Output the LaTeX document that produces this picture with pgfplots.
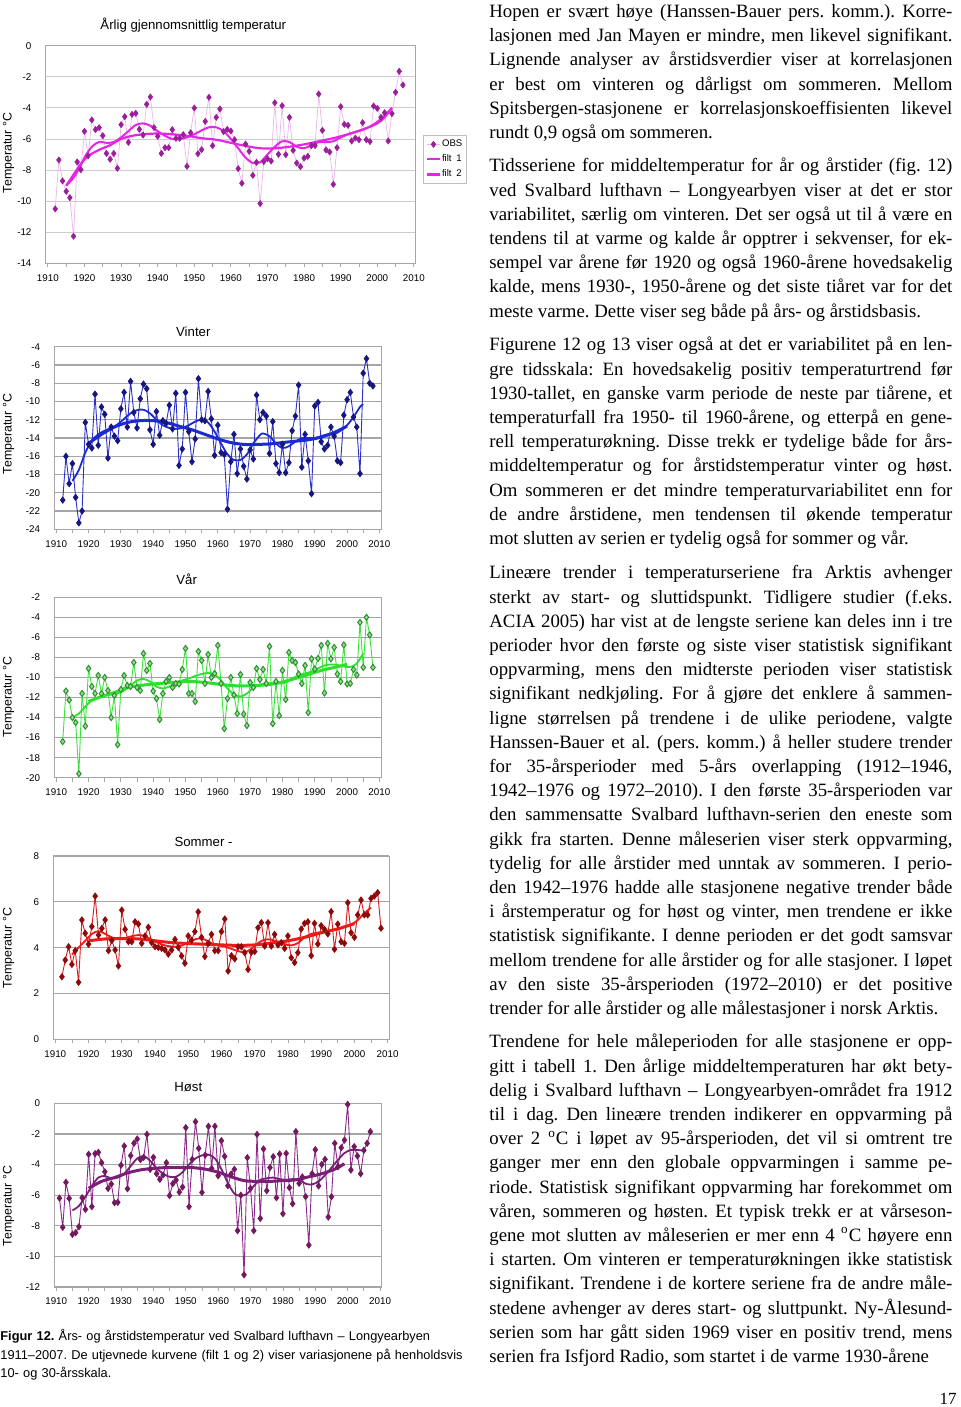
\documentclass[border=0pt]{standalone}
\usepackage{fontspec}
\setmainfont{Liberation Serif}
\setsansfont{Liberation Sans}
\usepackage{pgfplots}
\pgfplotsset{compat=1.18}

\definecolor{p1mk}{HTML}{9B1F9B}
\definecolor{p1ln}{HTML}{EBB5EB}
\definecolor{p1f}{HTML}{E626E6}
\definecolor{p2mk}{HTML}{16167E}
\definecolor{p2ln}{HTML}{2A30C8}
\definecolor{p2f}{HTML}{1C2AD2}
\definecolor{p3mk}{HTML}{2F8F2F}
\definecolor{p3fill}{HTML}{8FE08F}
\definecolor{p3ln}{HTML}{3CE23C}
\definecolor{p3f}{HTML}{2EE02E}
\definecolor{p4mk}{HTML}{8E0A0A}
\definecolor{p4ln}{HTML}{D81A1A}
\definecolor{p4f}{HTML}{EE1A1A}
\definecolor{p5mk}{HTML}{74185F}
\definecolor{p5ln}{HTML}{8A2A8A}
\definecolor{p5f}{HTML}{7A1E78}
\definecolor{gridc}{HTML}{A6A6A6}

\pgfplotsset{
  panel/.style={
    scale only axis, anchor=north west,
    xmin=1909.4, xmax=2010.5,
    xtick={1910,1920,...,2010},
    xticklabels={1910,1920,1930,1940,1950,1960,1970,1980,1990,2000,2010},
    minor x tick num=1,
    xtick pos=bottom, ytick pos=left,
    tick align=outside,
    major tick length=2pt, minor tick length=2pt,
    xtick style={draw=gray!70, line width=0.4pt},
    ytick style={draw=none},
    ymajorgrids, major grid style={draw=gridc, line width=0.6pt},
    axis line style={draw=gridc, line width=0.5pt},
    tick label style={font=\fontsize{4.9}{5}\selectfont\sffamily},
    xticklabel style={yshift=0pt},
    yticklabel style={xshift=-1.6pt},
    clip=false,
  },
  obs/.style={line width=0.45pt, mark=diamond*, mark size=1.5pt},
  fa/.style={line width=0.9pt, no markers, smooth},
  fb/.style={line width=1.5pt, no markers, smooth},
}
\tikzset{
  body/.style={anchor=north west, inner sep=0pt, text width=231.5pt, align=justify,
    font=\fontsize{9.4}{12.1}\selectfont},
  ttl/.style={inner sep=0pt, font=\fontsize{6.6}{7}\selectfont\sffamily},
  ylab/.style={inner sep=0pt, rotate=90, font=\fontsize{6.2}{7}\selectfont\sffamily},
}
\frenchspacing

\begin{document}
\begin{tikzpicture}
\path[use as bounding box] (0pt,0pt) rectangle (480pt,-703.5pt);

% ---------- titles and y labels ----------
\node[ttl] at (96.65pt,-12.5pt) {Årlig gjennomsnittlig temperatur};
\node[ttl] at (96.65pt,-165.85pt) {Vinter};
\node[ttl] at (93.35pt,-289.5pt) {Vår};
\node[ttl] at (101.75pt,-420.85pt) {Sommer -};
\node[ttl] at (94.15pt,-543.35pt) {Høst};
\node[ylab] at (4.25pt,-76.5pt) {Temperatur °C};
\node[ylab] at (4.25pt,-217pt) {Temperatur °C};
\node[ylab] at (4.25pt,-348.5pt) {Temperatur °C};
\node[ylab] at (4.25pt,-474pt) {Temperatur °C};
\node[ylab] at (4.25pt,-603pt) {Temperatur °C};

% ---------- Panel 1: annual ----------
\begin{axis}[panel, at={(22.85pt,-22.85pt)}, width=185pt, height=108.8pt,
  ymin=-14, ymax=0, ytick={-14,-12,...,0}, yticklabels={-14,-12,-10,-8,-6,-4,-2,0},
  major grid style={draw=gray!40, line width=0.45pt},
  legend style={at={(1.019,0.59)}, anchor=north west, draw=gray!50, line width=0.4pt,
    font=\fontsize{4.8}{5}\selectfont\sffamily, inner xsep=1.5pt, inner ysep=1.5pt,
    nodes={inner sep=0.6pt}, row sep=1.4pt, cells={anchor=west}},
  legend image code/.code={\draw[mark repeat=2,mark phase=2] plot coordinates {(0cm,0cm) (0.11cm,0cm) (0.22cm,0cm)};}]
\addplot[obs, color=p1ln, line width=0.35pt, mark options={draw=p1mk, fill=p1mk}] coordinates {
(1912,-10.5)(1913,-7.35)(1914,-8.7)(1915,-9.37)(1916,-9.78)(1917,-12.26)(1918,-7.48)(1919,-7.98)
(1920,-5.51)(1921,-7.08)(1922,-4.78)(1923,-5.40)(1924,-5.27)(1925,-5.79)(1926,-6.93)(1927,-7.31)
(1928,-6.93)(1929,-7.89)(1930,-5.08)(1931,-4.57)(1932,-6.22)(1933,-4.42)(1934,-4.35)(1935,-5.38)
(1936,-5.75)(1937,-3.77)(1938,-3.30)(1939,-5.27)(1940,-5.83)(1941,-6.93)(1942,-6.56)(1943,-6.56)
(1944,-5.40)(1945,-5.96)(1946,-5.96)(1947,-5.72)(1948,-7.76)(1949,-5.60)(1950,-4.01)(1951,-6.95)
(1952,-6.69)(1953,-4.87)(1954,-3.32)(1955,-6.43)(1956,-4.61)(1957,-4.07)(1958,-5.53)(1959,-5.38)
(1960,-5.49)(1961,-6.05)(1962,-7.91)(1963,-8.85)(1964,-6.33)(1965,-6.80)(1966,-8.34)(1967,-7.50)
(1968,-10.16)(1969,-7.46)(1970,-7.27)(1971,-7.42)(1972,-3.67)(1973,-6.99)(1974,-3.86)(1975,-7.01)
(1976,-4.61)(1977,-6.73)(1978,-7.55)(1979,-7.78)(1980,-7.23)(1981,-7.12)(1982,-6.43)(1983,-6.43)
(1984,-3.11)(1985,-5.45)(1986,-6.71)(1987,-6.84)(1988,-8.92)(1989,-6.56)(1990,-3.92)(1991,-5.06)
(1992,-5.12)(1993,-6.13)(1994,-5.94)(1995,-6.05)(1996,-4.95)(1997,-6.05)(1998,-6.17)(1999,-3.88)
(2000,-4.03)(2001,-4.61)(2002,-4.31)(2003,-6.13)(2004,-4.37)(2005,-3.00)(2006,-1.65)(2007,-2.53)};
\addlegendentry{OBS}
\addplot[fa, color=p1f, line width=1.0pt] coordinates {
(1915,-9.0)(1917,-8.5)(1919,-7.7)(1920,-7.2)(1922,-6.5)(1924,-6.2)(1926,-6.25)(1928,-6.2)(1930,-5.9)
(1932,-5.5)(1934,-5.1)(1936,-5.0)(1938,-5.15)(1940,-5.5)(1942,-5.8)(1944,-6.0)(1946,-6.0)(1948,-5.9)
(1950,-5.7)(1952,-5.45)(1954,-5.25)(1956,-5.25)(1958,-5.5)(1960,-6.0)(1962,-6.6)(1964,-7.2)(1966,-7.55)
(1968,-7.5)(1970,-7.0)(1972,-6.5)(1974,-6.15)(1976,-6.2)(1978,-6.5)(1980,-6.6)(1982,-6.4)(1984,-6.2)
(1986,-6.2)(1988,-6.15)(1990,-5.9)(1992,-5.7)(1994,-5.55)(1996,-5.4)(1998,-5.2)(2000,-4.9)(2002,-4.5)(2004,-4.0)};
\addlegendentry{filt\enspace 1}
\addplot[fa, color=p1f, line width=1.1pt] coordinates {
(1915,-9.0)(1917,-8.3)(1919,-7.6)(1921,-7.1)(1924,-6.7)(1927,-6.4)(1930,-6.0)(1933,-5.8)(1936,-5.7)
(1940,-5.65)(1944,-5.7)(1948,-5.8)(1952,-5.95)(1956,-6.05)(1960,-6.25)(1964,-6.45)(1968,-6.6)(1972,-6.6)
(1976,-6.5)(1980,-6.35)(1984,-6.15)(1988,-5.95)(1992,-5.7)(1996,-5.4)(2000,-5.0)(2002,-4.6)(2004,-4.0)};
\addlegendentry{filt\enspace 2}
\end{axis}

% ---------- Panel 2: Vinter ----------
\begin{axis}[panel, at={(27.15pt,-173.35pt)}, width=163.35pt, height=91.3pt,
  ymin=-24, ymax=-4, ytick={-24,-22,...,-4},
  yticklabels={-24,-22,-20,-18,-16,-14,-12,-10,-8,-6,-4}]
\addplot[obs, color=p2ln, mark options={draw=p2mk, fill=p2mk}] coordinates {
(1912,-20.8)(1913,-16.0)(1914,-19.0)(1915,-16.8)(1916,-20.5)(1917,-23.3)(1918,-22.0)(1919,-12.3)
(1920,-14.7)(1921,-15.1)(1922,-9.2)(1923,-14.8)(1924,-10.6)(1925,-11.4)(1926,-16.2)(1927,-12.8)
(1928,-13.8)(1929,-14.3)(1930,-10.8)(1931,-9.0)(1932,-12.8)(1933,-7.8)(1934,-11.2)(1935,-12.9)
(1936,-9.7)(1937,-8.1)(1938,-8.6)(1939,-13.1)(1940,-14.7)(1941,-11.1)(1942,-13.7)(1943,-12.1)
(1944,-12.4)(1945,-10.4)(1946,-13.0)(1947,-9.1)(1948,-17.0)(1949,-15.2)(1950,-9.0)(1951,-13.3)
(1952,-16.6)(1953,-14.1)(1954,-7.5)(1955,-12.0)(1956,-12.1)(1957,-8.9)(1958,-11.9)(1959,-15.9)
(1960,-12.6)(1961,-15.6)(1962,-15.8)(1963,-21.8)(1964,-16.6)(1965,-13.6)(1966,-17.9)(1967,-15.2)
(1968,-17.1)(1969,-18.5)(1970,-15.3)(1971,-16.3)(1972,-9.3)(1973,-12.0)(1974,-11.2)(1975,-11.6)
(1976,-15.7)(1977,-12.2)(1978,-16.8)(1979,-17.8)(1980,-14.7)(1981,-17.8)(1982,-16.7)(1983,-13.2)
(1984,-11.6)(1985,-8.2)(1986,-17.2)(1987,-13.6)(1988,-16.5)(1989,-20.1)(1990,-10.5)(1991,-10.1)
(1992,-14.4)(1993,-15.2)(1994,-14.8)(1995,-12.8)(1996,-13.8)(1997,-16.5)(1998,-16.7)(1999,-11.5)
(2000,-9.8)(2001,-9.0)(2002,-11.7)(2003,-12.8)(2004,-17.9)(2005,-6.9)(2006,-5.3)(2007,-8.0)(2008,-8.3)};
\addplot[fa, color=p2f] coordinates {
(1915,-18.7)(1917,-17.5)(1919,-15.6)(1921,-14.3)(1923,-13.6)(1925,-13.2)(1927,-12.9)(1929,-12.5)
(1931,-11.9)(1933,-11.3)(1935,-10.95)(1937,-10.9)(1939,-11.3)(1941,-12.0)(1943,-12.6)(1945,-12.9)
(1947,-13.0)(1949,-12.9)(1951,-12.6)(1953,-12.2)(1955,-12.0)(1957,-12.3)(1959,-13.3)(1961,-14.6)
(1963,-15.8)(1965,-16.4)(1967,-16.4)(1969,-15.8)(1971,-14.6)(1973,-13.7)(1974,-13.5)(1976,-13.8)
(1978,-14.6)(1980,-15.1)(1982,-14.9)(1984,-14.4)(1986,-14.0)(1988,-14.0)(1990,-14.0)(1992,-13.8)
(1994,-13.6)(1996,-13.6)(1998,-13.2)(2000,-12.6)(2002,-11.7)(2004,-10.6)(2005,-10.3)};
\addplot[fb, color=p2f] coordinates {
(1920,-14.6)(1924,-13.6)(1928,-12.8)(1932,-12.3)(1936,-12.1)(1940,-12.1)(1944,-12.3)(1948,-12.7)
(1952,-13.1)(1956,-13.6)(1960,-14.1)(1964,-14.5)(1968,-14.7)(1972,-14.7)(1976,-14.65)(1980,-14.5)
(1984,-14.35)(1988,-14.2)(1992,-13.9)(1996,-13.4)(2000,-12.7)};
\end{axis}

% ---------- Panel 3: Vår ----------
\begin{axis}[panel, at={(27.15pt,-298.65pt)}, width=163.35pt, height=90.2pt,
  ymin=-20, ymax=-2, ytick={-20,-18,...,-2},
  yticklabels={-20,-18,-16,-14,-12,-10,-8,-6,-4,-2}]
\addplot[obs, color=p3ln, mark options={draw=p3mk, fill=p3fill, line width=0.5pt}] coordinates {
(1912,-16.4)(1913,-11.35)(1914,-12.25)(1915,-14.0)(1916,-14.5)(1917,-19.6)(1918,-11.6)(1919,-14.85)
(1920,-9.1)(1921,-10.9)(1922,-11.6)(1923,-9.8)(1924,-11.6)(1925,-10.0)(1926,-11.3)(1927,-14.0)
(1928,-11.8)(1929,-16.7)(1930,-11.2)(1931,-9.8)(1932,-10.8)(1933,-10.9)(1934,-8.5)(1935,-11.0)
(1936,-11.3)(1937,-7.6)(1938,-9.3)(1939,-8.6)(1940,-11.35)(1941,-12.1)(1942,-14.2)(1943,-11.6)
(1944,-10.4)(1945,-10.0)(1946,-11.0)(1947,-10.6)(1948,-10.65)(1949,-9.2)(1950,-7.1)(1951,-11.6)
(1952,-11.6)(1953,-12.4)(1954,-7.4)(1955,-8.3)(1956,-10.6)(1957,-7.7)(1958,-10.0)(1959,-9.6)
(1960,-6.8)(1961,-10.6)(1962,-15.1)(1963,-12.1)(1964,-10.0)(1965,-11.75)(1966,-13.6)(1967,-9.7)
(1968,-13.65)(1969,-14.8)(1970,-10.5)(1971,-11.0)(1972,-9.1)(1973,-10.2)(1974,-9.2)(1975,-10.6)
(1976,-6.9)(1977,-14.6)(1978,-10.4)(1979,-13.8)(1980,-9.3)(1981,-12.2)(1982,-7.5)(1983,-8.3)
(1984,-8.5)(1985,-9.65)(1986,-10.6)(1987,-8.8)(1988,-13.5)(1989,-8.15)(1990,-9.15)(1991,-8.1)
(1992,-6.8)(1993,-11.55)(1994,-6.6)(1995,-8.15)(1996,-7.0)(1997,-9.65)(1998,-10.4)(1999,-6.75)
(2000,-10.65)(2001,-10.6)(2002,-9.2)(2003,-9.75)(2004,-4.5)(2005,-9.0)(2006,-4.0)(2007,-5.75)(2008,-9.0)};
\addplot[fa, color=p3f] coordinates {
(1915,-14.0)(1917,-13.6)(1919,-12.9)(1921,-12.3)(1923,-12.0)(1925,-11.8)(1927,-11.7)(1929,-11.6)
(1931,-11.3)(1933,-10.8)(1935,-10.3)(1937,-10.15)(1939,-10.4)(1941,-10.9)(1943,-11.1)(1945,-10.9)
(1947,-10.6)(1949,-10.3)(1951,-10.1)(1953,-9.85)(1955,-9.65)(1957,-9.55)(1959,-9.7)(1961,-10.3)
(1963,-11.1)(1965,-11.7)(1967,-11.9)(1969,-11.6)(1971,-11.0)(1973,-10.7)(1975,-10.6)(1977,-10.55)
(1979,-10.6)(1981,-10.5)(1983,-10.1)(1985,-9.8)(1987,-9.6)(1989,-9.4)(1991,-9.1)(1993,-8.8)
(1995,-8.7)(1997,-8.75)(1999,-8.9)(2001,-8.95)(2003,-8.6)(2005,-7.6)};
\addplot[fb, color=p3f] coordinates {
(1920,-12.4)(1924,-11.9)(1928,-11.5)(1932,-11.0)(1936,-10.8)(1940,-10.65)(1944,-10.55)(1948,-10.45)
(1952,-10.4)(1956,-10.5)(1960,-10.65)(1964,-10.8)(1968,-10.85)(1972,-10.8)(1976,-10.7)(1980,-10.45)
(1984,-10.1)(1988,-9.7)(1992,-9.3)(1996,-9.0)(2000,-8.7)};
\end{axis}

% ---------- Panel 4: Sommer ----------
\begin{axis}[panel, at={(26.65pt,-428pt)}, width=168pt, height=91.65pt,
  ymin=0, ymax=8, ytick={0,2,...,8}, yticklabels={0,2,4,6,8}]
\addplot[obs, color=p4ln, mark options={draw=p4mk, fill=p4mk}] coordinates {
(1912,2.73)(1913,3.46)(1914,4.04)(1915,3.27)(1916,3.87)(1917,2.49)(1918,5.21)(1919,4.63)
(1920,4.15)(1921,4.92)(1922,6.25)(1923,4.55)(1924,4.84)(1925,5.21)(1926,3.87)(1927,4.31)
(1928,3.90)(1929,3.20)(1930,5.64)(1931,4.80)(1932,4.26)(1933,4.26)(1934,5.13)(1935,5.03)
(1936,4.19)(1937,4.51)(1938,4.89)(1939,4.22)(1940,4.04)(1941,4.01)(1942,3.97)(1943,3.90)
(1944,3.72)(1945,3.90)(1946,4.36)(1947,4.01)(1948,3.64)(1949,3.32)(1950,4.51)(1951,4.33)
(1952,4.70)(1953,5.56)(1954,4.45)(1955,3.61)(1956,4.19)(1957,4.58)(1958,3.87)(1959,3.87)
(1960,4.70)(1961,5.25)(1962,2.98)(1963,3.65)(1964,3.51)(1965,4.04)(1966,4.04)(1967,3.78)
(1968,3.05)(1969,3.80)(1970,3.83)(1971,4.87)(1972,5.09)(1973,4.07)(1974,5.09)(1975,4.07)
(1976,4.58)(1977,4.12)(1978,4.22)(1979,3.97)(1980,4.51)(1981,3.56)(1982,3.35)(1983,3.78)
(1984,4.81)(1985,5.06)(1986,5.13)(1987,3.65)(1988,5.06)(1989,4.16)(1990,4.96)(1991,4.80)
(1992,4.60)(1993,5.57)(1994,3.93)(1995,5.03)(1996,4.26)(1997,4.19)(1998,5.96)(1999,4.65)
(2000,4.45)(2001,5.43)(2002,6.08)(2003,5.43)(2004,5.43)(2005,6.15)(2006,6.25)(2007,6.40)(2008,4.85)};
\addplot[fa, color=p4f] coordinates {
(1915,3.7)(1917,4.0)(1919,4.3)(1921,4.6)(1923,4.72)(1925,4.6)(1927,4.45)(1929,4.4)(1931,4.42)
(1933,4.5)(1935,4.55)(1937,4.5)(1939,4.35)(1941,4.2)(1943,4.1)(1945,4.05)(1947,4.05)(1949,4.15)
(1951,4.3)(1953,4.4)(1955,4.35)(1957,4.2)(1959,4.1)(1961,4.05)(1963,3.95)(1965,3.85)(1967,3.8)
(1969,3.95)(1971,4.2)(1973,4.35)(1975,4.35)(1977,4.25)(1979,4.15)(1981,4.1)(1983,4.2)(1985,4.45)
(1987,4.6)(1989,4.65)(1991,4.7)(1993,4.75)(1995,4.8)(1997,4.9)(1999,5.0)(2001,5.2)(2003,5.5)(2005,5.75)};
\addplot[fb, color=p4f] coordinates {
(1920,4.3)(1925,4.38)(1930,4.4)(1935,4.38)(1940,4.3)(1945,4.22)(1950,4.18)(1955,4.15)(1960,4.12)
(1965,4.1)(1970,4.12)(1975,4.2)(1980,4.3)(1985,4.45)(1990,4.65)(1995,4.82)(2000,5.05)};
\end{axis}

% ---------- Panel 5: Høst ----------
\begin{axis}[panel, at={(27.15pt,-551.65pt)}, width=163.7pt, height=91.85pt,
  ymin=-12, ymax=0, ytick={-12,-10,...,0}, yticklabels={-12,-10,-8,-6,-4,-2,0}]
\addplot[obs, color=p5ln, mark options={draw=p5mk, fill=p5mk}] coordinates {
(1911,-6.19)(1912,-8.10)(1913,-5.16)(1914,-6.21)(1915,-8.56)(1916,-8.45)(1917,-8.06)(1918,-6.17)
(1919,-6.93)(1920,-3.33)(1921,-6.75)(1922,-3.29)(1923,-3.20)(1924,-3.88)(1925,-4.47)(1926,-5.56)
(1927,-5.27)(1928,-6.49)(1929,-6.47)(1930,-4.05)(1931,-2.79)(1932,-5.58)(1933,-3.42)(1934,-2.61)
(1935,-2.33)(1936,-3.68)(1937,-3.53)(1938,-2.03)(1939,-4.31)(1940,-3.53)(1941,-4.60)(1942,-4.97)
(1943,-4.68)(1944,-3.88)(1945,-6.03)(1946,-5.25)(1947,-5.01)(1948,-5.80)(1949,-5.47)(1950,-1.59)
(1951,-6.75)(1952,-3.66)(1953,-1.20)(1954,-2.94)(1955,-5.82)(1956,-3.38)(1957,-1.50)(1958,-4.25)
(1959,-1.50)(1960,-4.73)(1961,-2.44)(1962,-3.46)(1963,-5.38)(1964,-4.62)(1965,-4.31)(1966,-8.32)
(1967,-6.0)(1968,-11.2)(1969,-3.55)(1970,-5.56)(1971,-8.32)(1972,-2.03)(1973,-7.52)(1974,-2.98)
(1975,-5.71)(1976,-4.2)(1977,-3.49)(1978,-6.17)(1979,-3.31)(1980,-7.21)(1981,-3.27)(1982,-5.51)
(1983,-6.56)(1984,-1.85)(1985,-5.23)(1986,-4.81)(1987,-6.10)(1988,-9.26)(1989,-4.60)(1990,-3.03)
(1991,-5.40)(1992,-3.99)(1993,-3.66)(1994,-7.43)(1995,-6.10)(1996,-2.61)(1997,-4.14)(1998,-2.90)
(1999,-2.40)(2000,-0.07)(2001,-4.36)(2002,-2.83)(2003,-3.44)(2004,-4.60)(2005,-3.07)(2006,-2.61)(2007,-1.85)};
\addplot[fa, color=p5f] coordinates {
(1915,-7.0)(1917,-6.7)(1919,-6.1)(1921,-5.4)(1923,-4.85)(1925,-4.75)(1927,-4.9)(1929,-4.85)(1931,-4.6)
(1933,-4.1)(1935,-3.6)(1937,-3.45)(1939,-3.75)(1941,-4.25)(1943,-4.6)(1945,-4.8)(1947,-4.8)(1949,-4.5)
(1951,-4.0)(1953,-3.6)(1955,-3.4)(1957,-3.35)(1959,-3.6)(1961,-4.3)(1963,-5.2)(1965,-5.9)(1967,-6.05)
(1969,-5.9)(1971,-5.4)(1973,-5.0)(1975,-4.9)(1977,-4.85)(1979,-4.95)(1981,-5.0)(1983,-4.95)(1985,-5.0)
(1987,-5.25)(1989,-5.3)(1991,-5.1)(1993,-4.7)(1995,-4.2)(1997,-3.7)(1999,-3.25)(2001,-3.05)(2003,-3.05)(2005,-3.1)};
\addplot[fb, color=p5f] coordinates {
(1920,-5.55)(1924,-5.1)(1928,-4.85)(1932,-4.55)(1936,-4.35)(1940,-4.25)(1944,-4.2)(1948,-4.2)(1952,-4.2)
(1956,-4.3)(1960,-4.5)(1964,-4.8)(1968,-5.05)(1972,-5.1)(1976,-5.1)(1980,-5.05)(1984,-5.0)(1988,-4.8)
(1992,-4.6)(1996,-4.3)(1999,-3.95)};
\end{axis}

% ---------- caption ----------
\node[anchor=north west, inner sep=0pt, text width=250pt, align=left,
  font=\fontsize{6.4}{9.25}\selectfont\sffamily] at (0pt,-663.8pt)
  {\strut\textbf{Figur 12.} Års- og årstidstemperatur ved Svalbard lufthavn – Longyearbyen\\
   1911–2007. De utjevnede kurvene (filt 1 og 2) viser variasjonene på henholdsvis\\
   10- og 30-årsskala.};

% ---------- body text ----------
\node[body] at (244.5pt,-0.05pt) {\tolerance=10000\hyphenpenalty=10000\exhyphenpenalty=10000\strut
Hopen er svært høye (Hanssen-Bauer pers. komm.). Korre-\linebreak
lasjonen med Jan Mayen er mindre, men likevel signifikant.\linebreak
Lignende analyser av årstidsverdier viser at korrelasjonen\linebreak
er best om vinteren og dårligst om sommeren. Mellom\linebreak
Spitsbergen-stasjonene er korrelasjonskoeffisienten likevel\linebreak
rundt 0,9 også om sommeren.};

\node[body] at (244.5pt,-77.3pt) {\tolerance=10000\hyphenpenalty=10000\exhyphenpenalty=10000\strut
Tidsseriene for middeltemperatur for år og årstider (fig. 12)\linebreak
ved Svalbard lufthavn – Longyearbyen viser at det er stor\linebreak
variabilitet, særlig om vinteren. Det ser også ut til å være en\linebreak
tendens til at varme og kalde år opptrer i sekvenser, for ek-\linebreak
sempel var årene før 1920 og også 1960-årene hovedsakelig\linebreak
kalde, mens 1930-, 1950-årene og det siste tiåret var for det\linebreak
meste varme. Dette viser seg både på års- og årstidsbasis.};

\node[body] at (244.5pt,-166.8pt) {\tolerance=10000\hyphenpenalty=10000\exhyphenpenalty=10000\strut
Figurene 12 og 13 viser også at det er variabilitet på en len-\linebreak
gre tidsskala: En hovedsakelig positiv temperaturtrend før\linebreak
1930-tallet, en ganske varm periode de neste par tiårene, et\linebreak
temperaturfall fra 1950- til 1960-årene, og etterpå en gene-\linebreak
rell temperaturøkning. Disse trekk er tydelige både for års-\linebreak
middeltemperatur og for årstidstemperatur vinter og høst.\linebreak
Om sommeren er det mindre temperaturvariabilitet enn for\linebreak
de andre årstidene, men tendensen til økende temperatur\linebreak
mot slutten av serien er tydelig også for sommer og vår.};

\node[body] at (244.5pt,-280.8pt) {\tolerance=10000\hyphenpenalty=10000\exhyphenpenalty=10000\strut
Lineære trender i temperaturseriene fra Arktis avhenger\linebreak
sterkt av start- og sluttidspunkt. Tidligere studier (f.eks.\linebreak
ACIA 2005) har vist at de lengste seriene kan deles inn i tre\linebreak
perioder hvor den første og siste viser statistisk signifikant\linebreak
oppvarming, mens den midterste perioden viser statistisk\linebreak
signifikant nedkjøling. For å gjøre det enklere å sammen-\linebreak
ligne størrelsen på trendene i de ulike periodene, valgte\linebreak
Hanssen-Bauer et al. (pers. komm.) å heller studere trender\linebreak
for 35-årsperioder med 5-års overlapping (1912–1946,\linebreak
1942–1976 og 1972–2010). I den første 35-årsperioden var\linebreak
den sammensatte Svalbard lufthavn-serien den eneste som\linebreak
gikk fra starten. Denne måleserien viser sterk oppvarming,\linebreak
tydelig for alle årstider med unntak av sommeren. I perio-\linebreak
den 1942–1976 hadde alle stasjonene negative trender både\linebreak
i årstemperatur og for høst og vinter, men trendene er ikke\linebreak
statistisk signifikante. I denne perioden er det godt samsvar\linebreak
mellom trendene for alle årstider og for alle stasjoner. I løpet\linebreak
av den siste 35-årsperioden (1972–2010) er det positive\linebreak
trender for alle årstider og alle målestasjoner i norsk Arktis.};

\node[body] at (244.5pt,-515.3pt) {\tolerance=10000\hyphenpenalty=10000\exhyphenpenalty=10000\parfillskip=0pt\strut
Trendene for hele måleperioden for alle stasjonene er opp-\linebreak
gitt i tabell 1. Den årlige middeltemperaturen har økt bety-\linebreak
delig i Svalbard lufthavn – Longyearbyen-området fra 1912\linebreak
til i dag. Den lineære trenden indikerer en oppvarming på\linebreak
over 2 \textsuperscript{o}C i løpet av 95-årsperioden, det vil si omtrent tre\linebreak
ganger mer enn den globale oppvarmingen i samme pe-\linebreak
riode. Statistisk signifikant oppvarming har forekommet om\linebreak
våren, sommeren og høsten. Et typisk trekk er at vårseson-\linebreak
gene mot slutten av måleserien er mer enn 4 \textsuperscript{o}C høyere enn\linebreak
i starten. Om vinteren er temperaturøkningen ikke statistisk\linebreak
signifikant. Trendene i de kortere seriene fra de andre måle-\linebreak
stedene avhenger av deres start- og sluttpunkt. Ny-Ålesund-\linebreak
serien som har gått siden 1969 viser en positiv trend, mens\linebreak
serien fra Isfjord Radio, som startet i de varme 1930-årene};

\node[anchor=base east, inner sep=0pt, font=\fontsize{8.5}{10}\selectfont] at (478.5pt,-702pt) {17};
\end{tikzpicture}
\end{document}
